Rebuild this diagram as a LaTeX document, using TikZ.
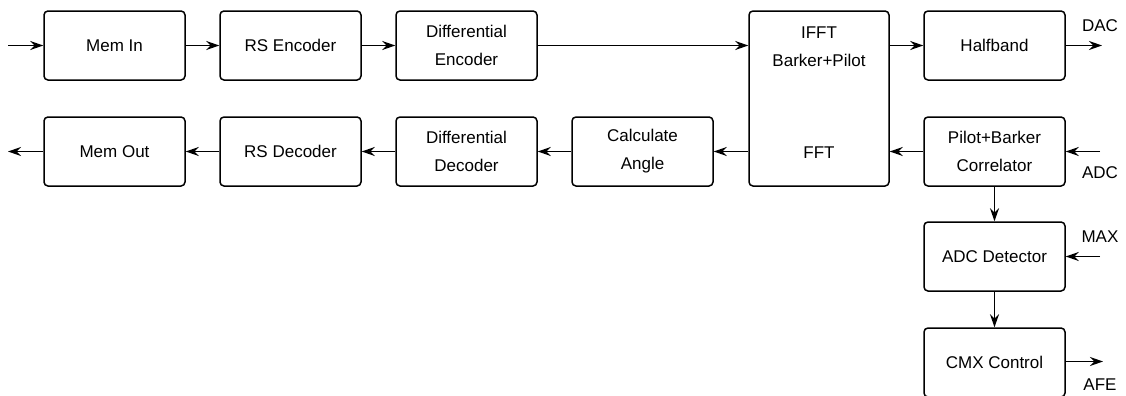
\documentclass[tikz,border=0pt]{standalone}
\usepackage{fontspec}
\setmainfont{Liberation Sans}
\usetikzlibrary{arrows.meta}
\tikzset{
  blk/.style={draw, rounded corners=2pt, minimum width=70.5pt, minimum height=34.5pt, inner sep=0pt, align=center},
  lbl/.style={inner sep=0pt},
  >={Stealth[length=6.5pt,width=4.5pt,inset=2.2pt]}
}
\begin{document}
\begin{tikzpicture}[x=0.5pt, y=-0.5pt, line width=0.75pt, font=\fontsize{8.5}{14}\selectfont]
    \useasboundingbox (0,0) rectangle (1126,396);
    \clip (0,0) rectangle (1126,396);
    % transmit row
    \node[blk] (memin)   at (114.5,45.5) {Mem In};
    \node[blk] (rsenc)   at (290.5,45.5) {RS Encoder};
    \node[blk] (diffenc) at (466.5,45.5) {Differential\\Encoder};
    \node[blk, minimum width=70pt, minimum height=87.5pt] (fft) at (819,98.5) {};
    \node[lbl, align=center] (ifftlbl) at (819,47) {IFFT\\Barker+Pilot};
    \node[lbl] (fftlbl) at (819,153) {FFT};
    \node[blk] (halfband) at (994.5,45.5) {Halfband};
    % receive row
    \node[blk] (memout)  at (114.5,151.5) {Mem Out};
    \node[blk] (rsdec)   at (290.5,151.5) {RS Decoder};
    \node[blk] (diffdec) at (466.5,151.5) {Differential\\Decoder};
    \node[blk] (angle)   at (642.5,151.5) {Calculate\\Angle};
    \node[blk] (corr)    at (994.5,151.5) {Pilot+Barker\\Correlator};
    \node[blk] (adcdet)  at (994.5,256.5) {ADC Detector};
    \node[blk] (cmx)     at (994.5,362.5) {CMX Control};
    % free ends
    \coordinate (in)     at (8,45.5);
    \coordinate (out)    at (8,151.5);
    \coordinate (dacend) at (1102,45.5);
    \coordinate (adcend) at (1100,151.5);
    \coordinate (maxend) at (1100,256.5);
    \coordinate (afeend) at (1103,361.5);
    \node[lbl] (dac) at (1100,26) {DAC};
    \node[lbl] (adc) at (1100,173) {ADC};
    \node[lbl] (max) at (1100,237) {MAX};
    \node[lbl] (afe) at (1100,385) {AFE};
    % connections
    \draw[->] (in) -- (memin);
    \draw[->] (memin) -- (rsenc);
    \draw[->] (rsenc) -- (diffenc);
    \draw[->] (diffenc.east) -- (diffenc.east -| fft.west);
    \draw[->] (halfband.west -| fft.east) -- (halfband);
    \draw[->] (halfband) -- (dacend);
    \draw[->] (adcend) -- (corr);
    \draw[->] (corr.west) -- (corr.west -| fft.east);
    \draw[->] (angle.east -| fft.west) -- (angle);
    \draw[->] (angle) -- (diffdec);
    \draw[->] (diffdec) -- (rsdec);
    \draw[->] (rsdec) -- (memout);
    \draw[->] (memout) -- (out);
    \draw[->] (corr) -- (adcdet);
    \draw[->] (maxend) -- (adcdet);
    \draw[->] (adcdet) -- (cmx);
    \draw[->] (cmx.east |- afeend) -- (afeend);
\end{tikzpicture}
\end{document}
